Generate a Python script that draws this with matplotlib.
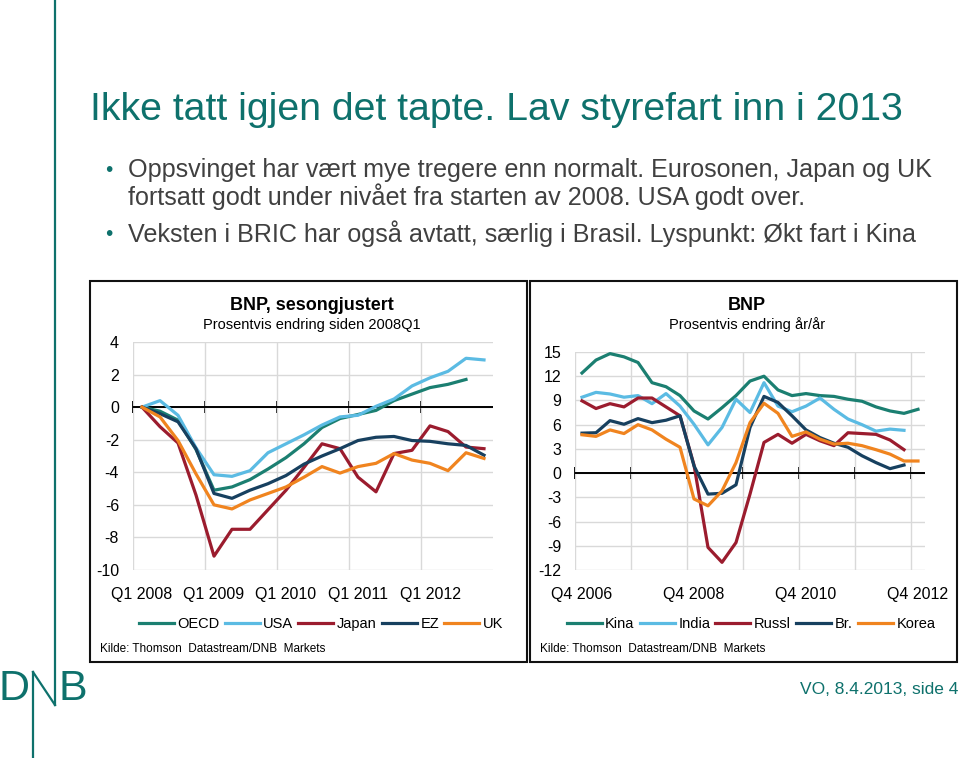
import matplotlib
matplotlib.use("Agg")
import matplotlib.pyplot as plt
from matplotlib.patches import Rectangle
from matplotlib.lines import Line2D
import numpy as np

nan = np.nan

# left chart: BNP, sesongjustert (Q1 2008 - Q4 2012)
left_ticks = ["Q1 2008", "Q1 2009", "Q1 2010", "Q1 2011", "Q1 2012"]
oecd = [0, -0.25, -0.8, -2.6, -5.1, -4.9, -4.45, -3.8, -3.1, -2.25, -1.25, -0.7, -0.45, -0.2, 0.4, 0.8, 1.2, 1.4, 1.7, nan]
usa = [0, 0.4, -0.5, -2.5, -4.15, -4.25, -3.9, -2.8, -2.25, -1.7, -1.1, -0.6, -0.5, 0.05, 0.5, 1.3, 1.8, 2.2, 3.0, 2.9]
japan = [0, -1.2, -2.2, -5.4, -9.15, -7.5, -7.5, -6.3, -5.1, -3.7, -2.25, -2.55, -4.3, -5.2, -2.85, -2.65, -1.15, -1.5, -2.45, -2.55]
ez = [0, -0.4, -0.9, -2.55, -5.3, -5.6, -5.1, -4.7, -4.2, -3.5, -3.0, -2.55, -2.05, -1.85, -1.8, -2.05, -2.1, -2.25, -2.35, -2.95]
uk = [0, -0.6, -2.05, -4.1, -6.0, -6.25, -5.7, -5.3, -4.9, -4.3, -3.65, -4.05, -3.65, -3.45, -2.85, -3.25, -3.45, -3.9, -2.8, -3.15]

# right chart: BNP ar/ar (Q4 2006 - Q4 2012)
right_ticks = ["Q4 2006", "Q4 2008", "Q4 2010", "Q4 2012"]
kina = [12.4, 14.0, 14.8, 14.4, 13.7, 11.2, 10.7, 9.6, 7.7, 6.7, 8.1, 9.6, 11.4, 12.0, 10.3, 9.6, 9.85, 9.6, 9.5, 9.15, 8.9, 8.2, 7.7, 7.4, 7.9]
india = [9.4, 10.0, 9.8, 9.4, 9.6, 8.6, 9.85, 8.3, 6.05, 3.5, 5.65, 9.15, 7.5, 11.2, 8.3, 7.6, 8.3, 9.3, 7.9, 6.7, 6.0, 5.2, 5.45, 5.3, nan]
russl = [8.95, 8.0, 8.6, 8.2, 9.3, 9.3, 8.2, 7.1, 1.0, -9.2, -11.05, -8.6, -2.6, 3.8, 4.8, 3.7, 4.8, 4.0, 3.4, 5.0, 4.9, 4.8, 4.1, 2.9, nan]
brasil = [4.95, 5.0, 6.5, 6.05, 6.75, 6.25, 6.55, 7.1, 0.9, -2.6, -2.5, -1.45, 5.65, 9.5, 8.75, 7.1, 5.35, 4.4, 3.7, 3.2, 2.15, 1.3, 0.55, 1.0, nan]
korea = [4.75, 4.55, 5.35, 4.9, 6.0, 5.35, 4.2, 3.2, -3.2, -4.05, -2.2, 1.3, 6.25, 8.65, 7.4, 4.55, 5.1, 4.2, 3.6, 3.7, 3.4, 2.9, 2.35, 1.5, 1.5]

TEAL = "#1b7f71"
LBLUE = "#5bbbe3"
RED = "#9b1c2e"
NAVY = "#17405f"
ORANGE = "#f0841f"
DNB = "#0e716c"

plt.rcParams["font.family"] = ["Liberation Sans", "DejaVu Sans"]

W, H = 960, 758
fig = plt.figure(figsize=(9.6, 7.58), dpi=100)


def fx(px):
    return px / W


def fy(py):
    return 1 - py / H


# DNB side line and logo
fig.add_artist(Line2D([fx(55), fx(55)], [fy(0), fy(705)], color=DNB, lw=1.6))
fig.add_artist(Line2D([fx(33), fx(55)], [fy(672), fy(705)], color=DNB, lw=1.6))
fig.add_artist(Line2D([fx(33), fx(33)], [fy(672), fy(758)], color=DNB, lw=1.6))
fig.text(fx(-1), fy(689), "D", color=DNB, fontsize=31, va="center", ha="left")
fig.text(fx(58), fy(689), "B", color=DNB, fontsize=31, va="center", ha="left")

# heading and bullets
fig.text(fx(90), fy(110), "Ikke tatt igjen det tapte. Lav styrefart inn i 2013",
         color=DNB, fontsize=28.3, va="center")
bullets = [(170, "Oppsvinget har vært mye tregere enn normalt. Eurosonen, Japan og UK", True),
           (197, "fortsatt godt under nivået fra starten av 2008. USA godt over.", False),
           (234, "Veksten i BRIC har også avtatt, særlig i Brasil. Lyspunkt: Økt fart i Kina", True)]
for y, txt, dot in bullets:
    if dot:
        fig.text(fx(105), fy(y), "•", color=DNB, fontsize=15, va="center")
    fig.text(fx(128), fy(y), txt, color="#404040", fontsize=18.1, va="center")

fig.text(fx(958), fy(690), "VO, 8.4.2013, side 4", color=DNB, fontsize=12.5,
         ha="right", va="center")

# chart frames
for x0, x1 in [(90, 527), (530, 957)]:
    fig.add_artist(Rectangle((fx(x0), fy(662)), fx(x1 - x0), (662 - 281) / H,
                             fill=False, ec="#111111", lw=1.5))


def panel(rect, series, lo, hi, step, label_pos, labels, title, sub, legend_x, src_x, title_x):
    ax = fig.add_axes(rect)
    n = len(series[0][1])
    x = np.arange(n)
    for name, vals, col in series:
        ax.plot(x, vals, color=col, lw=2.3, label=name, solid_joinstyle="round")
    ax.set_xlim(-0.5, n - 0.5)
    ax.set_ylim(lo, hi)
    bounds = np.arange(-0.5, n - 0.5, 4)
    ax.set_xticks(bounds)
    ax.set_xticklabels([])
    ax.set_xticks(label_pos, minor=True)
    ax.set_xticklabels(labels, minor=True, fontsize=11.5)
    ax.set_yticks(np.arange(lo, hi + 0.1, step))
    ax.set_yticklabels([str(int(v)) for v in np.arange(lo, hi + 0.1, step)],
                       fontsize=11.5)
    ax.tick_params(axis="both", which="both", length=0)
    ax.tick_params(axis="x", which="minor", pad=12)
    ax.tick_params(axis="y", pad=10)
    ax.grid(True, which="major", color="#d9d9d9", lw=1.0)
    ax.set_axisbelow(True)
    for s in ax.spines.values():
        s.set_visible(False)
    ax.axhline(0, color="black", lw=1.4, zorder=1.5)
    z = (0 - lo) / (hi - lo)
    sec = ax.secondary_xaxis(z)
    sec.set_xticks(bounds)
    sec.set_xticklabels([])
    sec.tick_params(direction="inout", length=9, width=1.3, color="black")
    for s in sec.spines.values():
        s.set_visible(False)

    fig.text(fx(title_x), fy(305), title, fontsize=13, fontweight="bold",
             ha="center", va="center")
    fig.text(fx(title_x), fy(325), sub, fontsize=10.5, ha="center", va="center")
    handles, names = ax.get_legend_handles_labels()
    fig.legend(handles, names, loc="center", bbox_to_anchor=(fx(legend_x), fy(624)),
               ncol=5, frameon=False, handlelength=2.4, handletextpad=0.25,
               columnspacing=0.35, borderpad=0, prop={"size": 10.5})
    fig.text(fx(src_x), fy(649), "Kilde: Thomson  Datastream/DNB  Markets",
             fontsize=8.5, ha="left", va="center")
    return ax


panel([fx(133), fy(570), fx(360), 228 / H],
      [("OECD", oecd, TEAL), ("USA", usa, LBLUE), ("Japan", japan, RED),
       ("EZ", ez, NAVY), ("UK", uk, ORANGE)],
      -10, 4, 2, [0, 4, 8, 12, 16], left_ticks,
      "BNP, sesongjustert", "Prosentvis endring siden 2008Q1", 321, 100, 312)

panel([fx(575), fy(570), fx(350), 218 / H],
      [("Kina", kina, TEAL), ("India", india, LBLUE), ("Russl", russl, RED),
       ("Br.", brasil, NAVY), ("Korea", korea, ORANGE)],
      -12, 15, 3, [0, 8, 16, 24], right_ticks,
      "BNP", "Prosentvis endring år/år", 751, 540, 747)

fig.savefig("out.png", dpi=100)
